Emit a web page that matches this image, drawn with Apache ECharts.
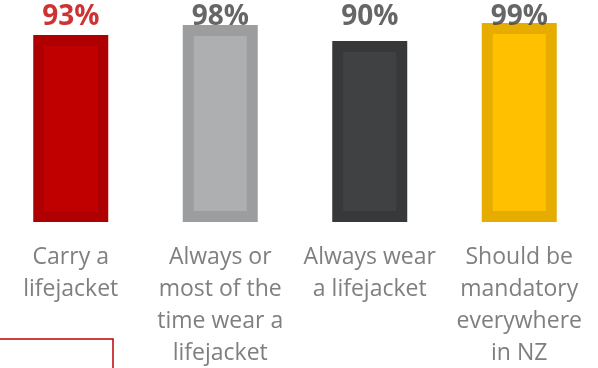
<!DOCTYPE html>
<html>
<head>
<meta charset="utf-8">
<title>Lifejacket</title>
<script src="https://cdn.jsdelivr.net/npm/echarts@6/dist/echarts.min.js"></script>
<style>
  html, body { margin: 0; padding: 0; background: #fff; }
  #chart { width: 598px; height: 368px; }
</style>
</head>
<body>
<div id="chart"></div>
<script>
// data
var categories = ['Carry a\nlifejacket', 'Always or\nmost of the\ntime wear a\nlifejacket', 'Always wear\na lifejacket', 'Should be\nmandatory\neverywhere\nin NZ'];
var values = [93, 98, 90, 99];
var fillColors = ['#C00000', '#AEAFB1', '#404143', '#FFC000'];
var edgeColors = ['#AE0000', '#9C9D9F', '#37383A', '#E6AC00'];
var labelColors = ['#C00000', '#404040', '#404040', '#404040'];
var labelRow = 102.2;   // where the % labels sit

var chart = echarts.init(document.getElementById('chart'));

var barData = values.map(function (v, i) {
    return {
        value: v,
        itemStyle: { color: fillColors[i], borderColor: edgeColors[i] }
    };
});

var labelData = values.map(function (v, i) {
    return {
        value: labelRow,
        label: { color: labelColors[i], formatter: v + '%' }
    };
});

var option = {
    animation: false,
    grid: { left: -4, right: 4, top: 0.9, bottom: 146, outerBoundsMode: 'none', containLabel: false },
    xAxis: {
        type: 'category',
        data: categories,
        axisLine: { show: false },
        axisTick: { show: false },
        axisLabel: {
            interval: 0,
            margin: 19,
            color: '#7F7F7F',
            fontFamily: 'Open Sans',
            fontSize: 23,
            lineHeight: 32
        }
    },
    yAxis: {
        type: 'value',
        min: 0,
        max: 110,
        show: false,
        splitLine: { show: false }
    },
    series: [{
        type: 'bar',
        data: barData,
        barWidth: 75,
        itemStyle: { borderWidth: 11 }
    },
    {
        type: 'scatter',
        data: labelData,
        symbolSize: 0,
        clip: false,
        label: {
            show: true,
            position: 'inside',
            fontFamily: 'Open Sans',
            fontWeight: 'bold',
            fontSize: 28
        }
    }],
    graphic: [{
        type: 'rect',
        shape: { x: -10, y: 339, width: 123, height: 60 },
        style: { fill: 'none', stroke: '#C00000', lineWidth: 1.5 }
    }]
};

chart.setOption(option);
</script>
</body>
</html>
